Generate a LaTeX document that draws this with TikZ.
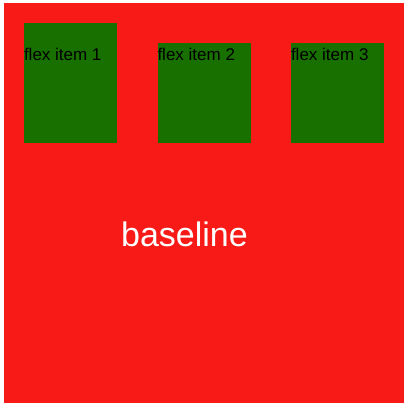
\documentclass[tikz,border=0pt]{standalone}
\usepackage{fontspec}
\setmainfont{Liberation Sans}
\usetikzlibrary{positioning}
\definecolor{red}{RGB}{248,26,22}
\definecolor{green}{RGB}{24,112,0}

\begin{document}
\begin{tikzpicture}[x=1pt, y=-1pt]
	\tikzstyle{container}=[fill=red, inner sep=0pt, minimum width=400pt, minimum height=400pt]
	\tikzstyle{item}=[fill=green, inner sep=0pt, minimum width=93pt]
	\tikzstyle{label}=[inner sep=0pt, anchor=base west, font=\fontsize{17}{19}\selectfont]
	
	\useasboundingbox (0,0) rectangle (408,408);
	
	\draw node at (204, 203) [container] (box) {};
	
	\draw node at (70.5, 83) [item, minimum height=120pt] (i1) {};
	\draw node at (204, 93) [item, minimum height=100pt] (i2) {};
	\draw node at (337.5, 93) [item, minimum height=100pt] (i3) {};
	
	% text sits on one baseline
	\node at (i1.west |- 0,60) [label] (t1) {flex item 1};
	\node at (i2.west |- 0,60) [label] (t2) {flex item 2};
	\node at (i3.west |- 0,60) [label] (t3) {flex item 3};
	
	\node at (184.5, 246.5) [anchor=base, inner sep=0pt, text=white, font=\fontsize{34}{38}\selectfont] (base) {baseline};
\end{tikzpicture}
\end{document}
